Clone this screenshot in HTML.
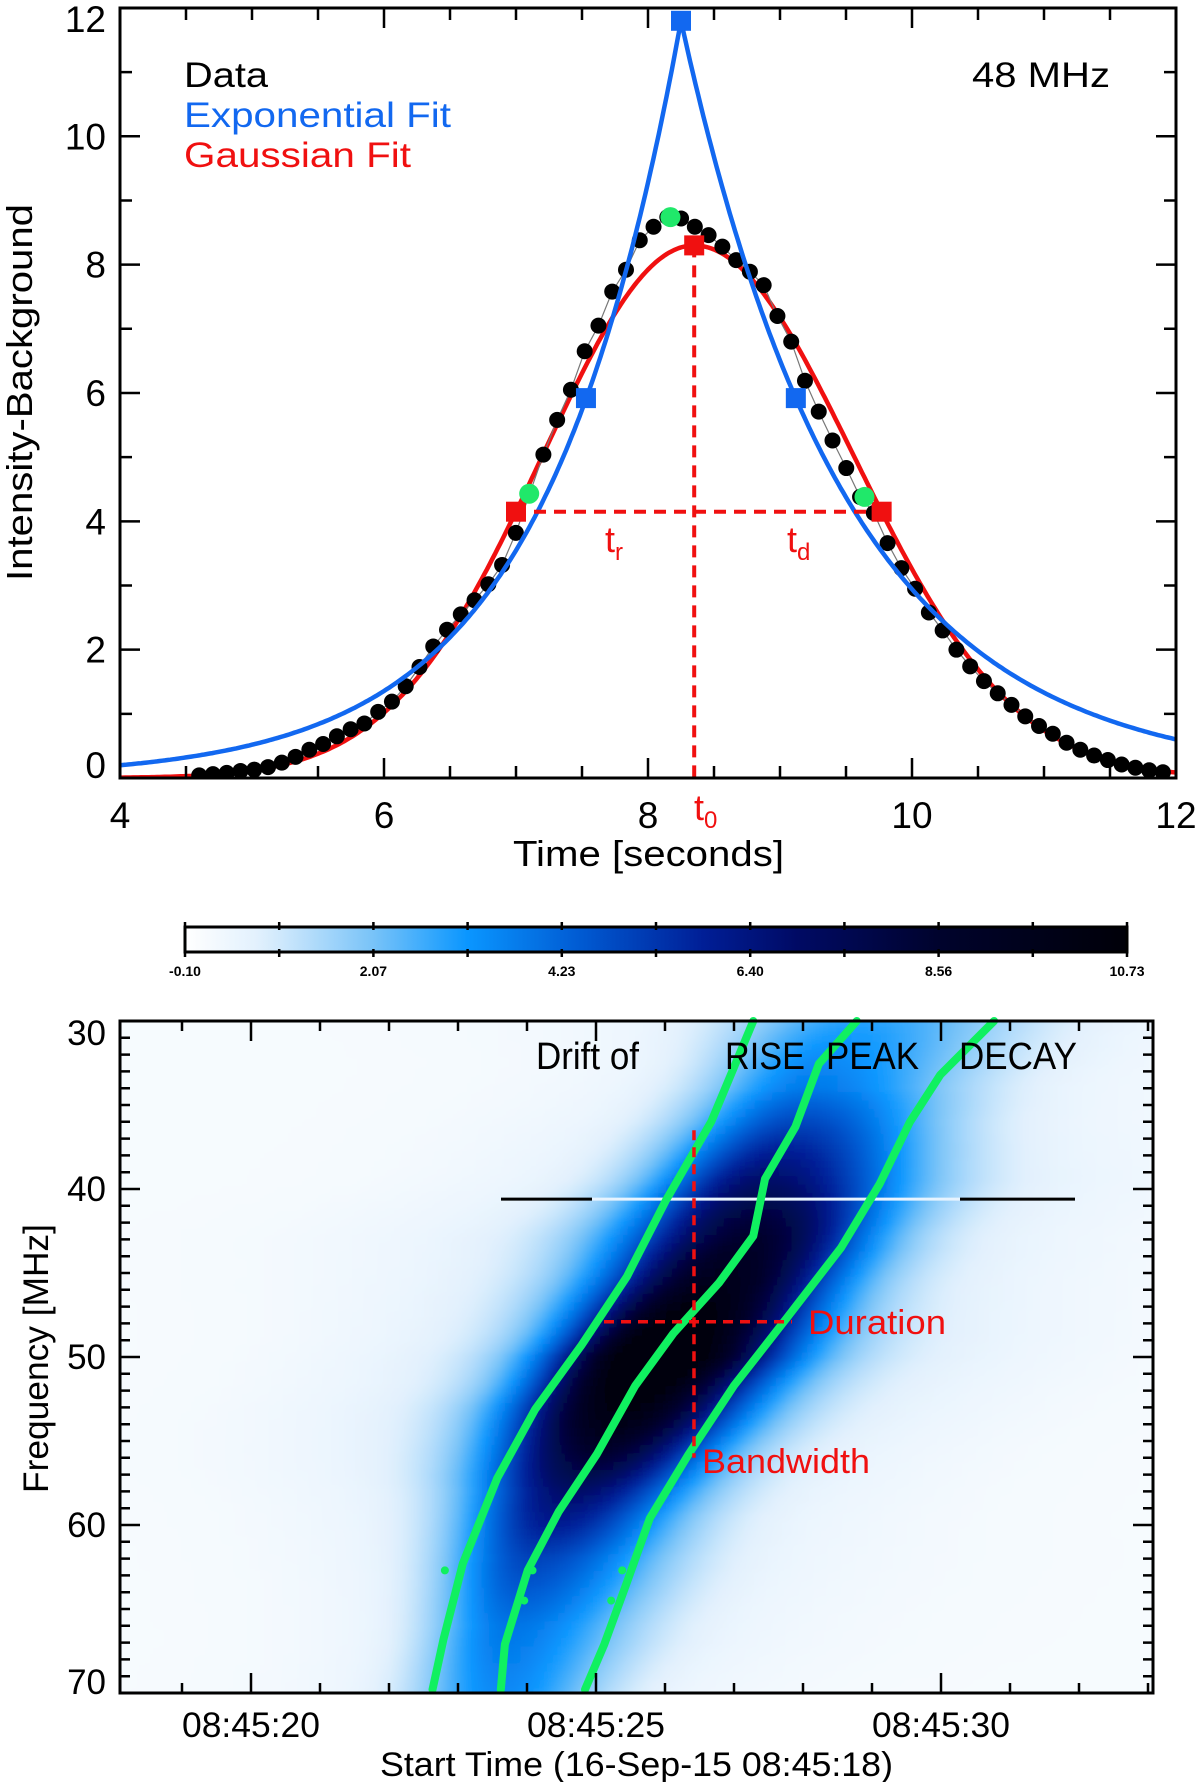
<!DOCTYPE html>
<html><head><meta charset="utf-8"><style>
html,body{margin:0;padding:0;background:#fff;}
svg{display:block;font-family:"Liberation Sans",Arial,sans-serif;}
</style></head><body>
<svg id="fig" xmlns="http://www.w3.org/2000/svg" width="1200" height="1782" viewBox="0 0 1200 1782">
<defs>
<clipPath id="clipTop"><rect x="120" y="8" width="1056" height="770"/></clipPath>
<clipPath id="clipBot"><rect x="120" y="1021" width="1033" height="672"/></clipPath>
<linearGradient id="cbar" x1="0" x2="1" y1="0" y2="0"></linearGradient>
<filter id="blur" x="-5%" y="-5%" width="110%" height="110%"><feGaussianBlur stdDeviation="3"/></filter>
</defs>
<g id="top"></g>
<g id="cb"></g>
<g id="bot"></g>
</svg>
<script>
// ---------- TOP PANEL DATA ----------
const dataT0 = 4.6;
const dataDt = 0.1043;
const dataValues = [0.04,0.06,0.08,0.11,0.13,0.17,0.24,0.33,0.44,0.53,0.65,0.76,0.85,1.03,1.19,1.43,1.73,2.05,2.31,2.55,2.77,3.02,3.32,3.82,4.43,5.04,5.58,6.05,6.65,7.05,7.58,7.92,8.38,8.59,8.74,8.72,8.59,8.46,8.28,8.07,7.89,7.68,7.20,6.80,6.19,5.71,5.26,4.83,4.38,4.13,3.66,3.27,2.95,2.58,2.30,2.00,1.74,1.51,1.32,1.14,0.96,0.81,0.69,0.55,0.44,0.35,0.28,0.21,0.16,0.12,0.09];
const expFitParams = [11.8, 8.25, 1.04, 1.26];   // peak, t0, tau rise, tau decay
const gaussFitParams = [8.3, 8.35, 1.147, 1.206]; // amp, t0, sigma left, sigma right
const blueSquaresT = [8.25, 7.53, 9.12];
const blueSquaresV = [11.8, 5.92, 5.92];
const redSquaresT = [8.35, 7.0, 9.77];
const redSquaresV = [8.3, 4.15, 4.15];
const greenPtsT = [8.17, 7.10, 9.64];
const greenPtsV = [8.74, 4.43, 4.38];
const topXTicks = [4,6,8,10,12];
const topYTicks = [0,2,4,6,8,10,12];

// ---------- COLORBAR ----------
const cbLabels = ["-0.10","2.07","4.23","6.40","8.56","10.73"];
const cbMin = -0.10, cbMax = 10.73;

// ---------- BOTTOM PANEL DATA ----------
const riseF = [30,36,40.7,45.2,49.3,53.1,57.2,62.3,66.8,69.8];
const riseT = [27.28,26.67,26.01,25.45,24.79,24.12,23.57,23.07,22.79,22.63];
const peakF = [30,32.55,36.3,39.4,42.8,45.6,48.6,51.7,55.8,59.2,62.7,67.1,69.8];
const peakT = [28.78,28.23,27.89,27.45,27.28,26.78,26.12,25.57,25.01,24.46,24.01,23.68,23.62];
const decayF = [30,33.2,36,39.7,43.5,47.6,51.7,55.8,59.6,63.4,67.1,69.8];
const decayT = [30.77,29.99,29.55,29.11,28.55,27.78,27.0,26.34,25.78,25.45,25.12,24.84];
const intensF = [30,34,38,42,46,50,54,58,62,66,70];
const intensPeak = [2.4,3.2,5.2,7.2,8.6,10.5,8.6,6.0,4.3,3.3,2.9];
const strayT = [22.81,24.08,25.38,23.96,25.22];
const strayF = [62.7,62.7,62.7,64.5,64.5];
const botXTicks = [20,25,30];
const botXLabels = ["08:45:20","08:45:25","08:45:30"];
const botYTicks = [30,40,50,60,70];

const NS = "http://www.w3.org/2000/svg";
function mk(tag, attrs, parent){const e=document.createElementNS(NS,tag);for(const k in attrs)e.setAttribute(k,attrs[k]);parent.appendChild(e);return e;}
function txt(s, attrs, parent){const e=mk('text',attrs,parent);e.textContent=s;return e;}

// ===== TOP =====
const topG = document.getElementById('top');
const X = t => 120 + (t-4)*132;
const Y = v => 778 - v*64.17;
const expF = t => { const [A,t0,tr,td]=expFitParams; return t<t0 ? A*Math.exp(-(t0-t)/tr) : A*Math.exp(-(t-t0)/td); };
const gauF = t => { const [A,t0,sl,sr]=gaussFitParams; const s=t<t0?sl:sr; return A*Math.exp(-(t-t0)*(t-t0)/(2*s*s)); };

const gTop = mk('g',{'clip-path':'url(#clipTop)'},topG);
let d=''; for(let t=4;t<=12.001;t+=0.02){d+=(d?'L':'M')+X(t).toFixed(1)+','+Y(gauF(t)).toFixed(1);}
let gl = mk('path',{d:d,fill:'none',stroke:'#f01010','stroke-width':4.5},gTop);


let pd=''; dataValues.forEach((v,i)=>{pd+=(i?'L':'M')+X(dataT0+i*dataDt).toFixed(1)+','+Y(v).toFixed(1);});
let dl = mk('path',{d:pd,fill:'none',stroke:'#777','stroke-width':1.2},gTop);


dataValues.forEach((v,i)=>{
  const c=mk('circle',{cx:X(dataT0+i*dataDt),cy:Y(v),r:8,fill:'#000'},gTop);
  
  
});
d=''; for(let t=4;t<=12.001;t+=0.02){d+=(d?'L':'M')+X(t).toFixed(1)+','+Y(expF(t)).toFixed(1);}
let el = mk('path',{d:d,fill:'none',stroke:'#1268f0','stroke-width':4.5},gTop);


const hl = mk('line',{x1:X(redSquaresT[1])+18,x2:X(redSquaresT[2])-6,y1:Y(redSquaresV[1]),y2:Y(redSquaresV[1]),stroke:'#f01010','stroke-width':4,'stroke-dasharray':'12 8'},topG);


const vl = mk('line',{x1:X(gaussFitParams[1]),x2:X(gaussFitParams[1]),y1:Y(gaussFitParams[0]),y2:778,stroke:'#f01010','stroke-width':4,'stroke-dasharray':'12 8'},topG);


blueSquaresT.forEach((t,i)=>{
  const r=mk('rect',{x:X(t)-10,y:Y(blueSquaresV[i])-10,width:20,height:20,fill:'#1268f0'},topG);
  
  
});
redSquaresT.forEach((t,i)=>{
  const r=mk('rect',{x:X(t)-10,y:Y(redSquaresV[i])-10,width:20,height:20,fill:'#f01010'},topG);
  
  
});
greenPtsT.forEach((t,i)=>{
  const c=mk('circle',{cx:X(t),cy:Y(greenPtsV[i]),r:10,fill:'#20e86a'},topG);
  
  
});
mk('rect',{x:120,y:8,width:1056,height:770,fill:'none',stroke:'#000','stroke-width':3},topG);
let tk='';
for(let t=4;t<=12.001;t+=0.5){const major=Math.abs(t-Math.round(t/2)*2)<0.01;const L=major?20:12;tk+=`M${X(t)},778v${-L}M${X(t)},8v${L}`;}
for(let v=0;v<=12;v+=1){const L=v%2==0?20:12;tk+=`M120,${Y(v)}h${L}M1176,${Y(v)}h${-L}`;}
mk('path',{d:tk,stroke:'#000','stroke-width':2.5,fill:'none'},topG);
topXTicks.forEach(t=>{
  const e=txt(String(t),{x:X(t),y:828,'font-size':37,'text-anchor':'middle',fill:'#000'},topG);
  
  
});
topYTicks.forEach(v=>{
  let by=Y(v)+13; if(v===0)by=778; if(v===12)by=32;
  const e=txt(String(v),{x:106,y:by,'font-size':37,'text-anchor':'end',fill:'#000'},topG);
  
  
});
</script>
<script>
(function(){
const tg=document.getElementById('top');
function T(s,a,n){const e=document.createElementNS("http://www.w3.org/2000/svg",'text');for(const k in a)e.setAttribute(k,a[k]);e.innerHTML=s;tg.appendChild(e);


return e;}
T('Time [seconds]',{x:513,y:866,'font-size':36,textLength:271,lengthAdjust:'spacingAndGlyphs'},'x-axis-title');
T('Intensity-Background',{x:0,y:0,'font-size':36,transform:'translate(32,581) rotate(-90)',textLength:377,lengthAdjust:'spacingAndGlyphs'},'y-axis-title');
T('Data',{x:184,y:87,'font-size':35,fill:'#000',textLength:84,lengthAdjust:'spacingAndGlyphs'},'legend-data');
T('Exponential Fit',{x:184,y:127,'font-size':35,fill:'#1268f0',textLength:267,lengthAdjust:'spacingAndGlyphs'},'legend-exponential-fit');
T('Gaussian Fit',{x:184,y:167,'font-size':35,fill:'#f01010',textLength:227,lengthAdjust:'spacingAndGlyphs'},'legend-gaussian-fit');
T('48 MHz',{x:972,y:87,'font-size':35,fill:'#000',textLength:138,lengthAdjust:'spacingAndGlyphs'},'frequency-label');
T('t<tspan font-size="24" dy="8">r</tspan>',{x:605,y:552,'font-size':36,fill:'#f01010'},'rise-time-label');
T('t<tspan font-size="24" dy="8">d</tspan>',{x:787,y:552,'font-size':36,fill:'#f01010'},'decay-time-label');
T('t<tspan font-size="24" dy="8">0</tspan>',{x:694,y:820,'font-size':36,fill:'#f01010'},'peak-time-label');
})();
</script>
<script>
const cmapStops=[[0,255,255,255],[0.08,225,240,253],[0.2,120,195,248],[0.3,10,150,255],[0.42,0,90,210],[0.55,0,30,150],[0.65,0,10,100],[0.8,0,3,45],[1,0,0,8]];
function cmap(f){f=Math.max(0,Math.min(1,f));for(let i=1;i<cmapStops.length;i++){if(f<=cmapStops[i][0]){const a=cmapStops[i-1],b=cmapStops[i];const u=(f-a[0])/(b[0]-a[0]);return `rgb(${Math.round(a[1]+(b[1]-a[1])*u)},${Math.round(a[2]+(b[2]-a[2])*u)},${Math.round(a[3]+(b[3]-a[3])*u)})`;}}return 'rgb(0,0,8)';}
(function(){
const g=document.getElementById('cbar');
for(let i=0;i<=40;i++){const s=document.createElementNS(NS,'stop');s.setAttribute('offset',i/40);s.setAttribute('stop-color',cmap(i/40));g.appendChild(s);}
const cb=document.getElementById('cb');
const bar=mk('rect',{x:185,y:927,width:942,height:25,fill:'url(#cbar)',stroke:'#000','stroke-width':3},cb);


let ck='';for(let i=0;i<=10;i++){const x=185+i*94.2;ck+=`M${x},922v8M${x},949v8`;}
mk('path',{d:ck,stroke:'#000','stroke-width':2.5},cb);
cbLabels.forEach((l,i)=>{
  const e=txt(l,{x:185+i*188.4,y:976,'font-size':14,'font-weight':'bold','text-anchor':'middle',fill:'#000'},cb);
  
  
});
})();

const bot=document.getElementById('bot');
const BX = t => 251 + (t-20)*69;
const BY = f => 1021 + (f-30)*16.8;
function interp(xs,ys,x){if(x<=xs[0])return ys[0]+(ys[1]-ys[0])*(x-xs[0])/(xs[1]-xs[0]);for(let i=1;i<xs.length;i++){if(x<=xs[i]){const u=(x-xs[i-1])/(xs[i]-xs[i-1]);return ys[i-1]+(ys[i]-ys[i-1])*u;}}const n=xs.length;return ys[n-1]+(ys[n-1]-ys[n-2])*(x-xs[n-1])/(xs[n-1]-xs[n-2]);}
const defsEl=document.querySelector('defs');
const hm=mk('g',{'clip-path':'url(#clipBot)'},bot);


mk('rect',{x:120,y:1021,width:1033,height:672,fill:cmap(0.03)},hm);
const hmInner=mk('g',{filter:'url(#blur)'},hm);
for(let f=29.5;f<=70.5;f+=0.5){
  const tc=interp(peakF,peakT,f), tr=interp(riseF,riseT,f), td=interp(decayF,decayT,f);
  const A=interp(intensF,intensPeak,f);
  const sl=Math.max(0.3,(tc-tr)/1.1774), sr=Math.max(0.3,(td-tc)/1.1774);
  const gid='row'+Math.round(f*2);
  const lg=mk('linearGradient',{id:gid,gradientUnits:'userSpaceOnUse',x1:120,x2:1153,y1:0,y2:0},defsEl);
  for(let t=18;t<=33.1;t+=0.2){
    const dt=t-tc, s=dt<0?sl:sr;
    const v=A*Math.exp(-dt*dt/(2*s*s)) + 0.13*A*Math.exp(-dt*dt/(2*(2.4*s)*(2.4*s))) + 0.15;
    const st=document.createElementNS(NS,'stop');
    st.setAttribute('offset',((BX(t)-120)/1033).toFixed(4));
    st.setAttribute('stop-color',cmap((v-cbMin)/(cbMax-cbMin)));
    lg.appendChild(st);
  }
  const r=mk('rect',{x:120,y:BY(f)-4.5,width:1033,height:9.2,fill:`url(#${gid})`},hmInner);
  
  
}
const rfi=mk('g',{},bot);


mk('line',{x1:501,x2:592,y1:BY(40.6),y2:BY(40.6),stroke:'#000','stroke-width':3},rfi);
mk('line',{x1:592,x2:960,y1:BY(40.6),y2:BY(40.6),stroke:'#e8f4ff','stroke-width':3},rfi);
mk('line',{x1:960,x2:1075,y1:BY(40.6),y2:BY(40.6),stroke:'#000','stroke-width':3},rfi);
[[riseF,riseT,'rise-drift-line'],[peakF,peakT,'peak-drift-line'],[decayF,decayT,'decay-drift-line']].forEach(([fs,ts,name])=>{
  let p='';fs.forEach((f,i)=>{p+=(i?'L':'M')+BX(ts[i]).toFixed(1)+','+BY(f).toFixed(1);});
  const e=mk('path',{d:p,fill:'none',stroke:'#10f060','stroke-width':8,'stroke-linejoin':'round','stroke-linecap':'round'},bot);
  
  
});
strayT.forEach((t,i)=>{
  const c=mk('circle',{cx:BX(t),cy:BY(strayF[i]),r:4,fill:'#10f060'},bot);
  
  
});
const tpk=26.42, fpk=47.9;
const dv=mk('line',{x1:BX(tpk),x2:BX(tpk),y1:BY(36.5),y2:BY(56),stroke:'#f01010','stroke-width':3.5,'stroke-dasharray':'10 7'},bot);


const dh=mk('line',{x1:604,x2:792,y1:BY(fpk),y2:BY(fpk),stroke:'#f01010','stroke-width':3.5,'stroke-dasharray':'10 7'},bot);


mk('rect',{x:120,y:1021,width:1033,height:672,fill:'none',stroke:'#000','stroke-width':3},bot);
let tk2='';
for(let t=19;t<=33;t+=1){const L=(t%5==0)?20:10;tk2+=`M${BX(t)},1693v${-L}M${BX(t)},1021v${L}`;}
for(let f=30;f<=70;f+=1){const L=(f%10==0)?20:10;tk2+=`M120,${BY(f)}h${L}M1153,${BY(f)}h${-L}`;}
mk('path',{d:tk2,stroke:'#000','stroke-width':2.5,fill:'none'},bot);
botXTicks.forEach((t,i)=>{
  const e=txt(botXLabels[i],{x:BX(t),y:1737,'font-size':35,'text-anchor':'middle',textLength:138,lengthAdjust:'spacingAndGlyphs'},bot);
  
  
});
botYTicks.forEach(f=>{
  let by=BY(f)+12; if(f===30)by=1045; if(f===70)by=1694;
  const e=txt(String(f),{x:106,y:by,'font-size':35,'text-anchor':'end'},bot);
  
  
});
function Lb(s,a,n){const e=txt(s,a,bot);

}
Lb('Start Time (16-Sep-15 08:45:18)',{x:380,y:1776,'font-size':34,textLength:513,lengthAdjust:'spacingAndGlyphs'},'x-axis-title');
Lb('Frequency [MHz]',{x:0,y:0,'font-size':35,transform:'translate(48,1493) rotate(-90)',textLength:269,lengthAdjust:'spacingAndGlyphs'},'y-axis-title');
Lb('Drift of',{x:536,y:1069,'font-size':38,textLength:103,lengthAdjust:'spacingAndGlyphs'},'drift-label');
Lb('RISE',{x:725,y:1069,'font-size':38,textLength:80,lengthAdjust:'spacingAndGlyphs'},'rise-label');
Lb('PEAK',{x:826,y:1069,'font-size':38,textLength:93,lengthAdjust:'spacingAndGlyphs'},'peak-label');
Lb('DECAY',{x:959,y:1069,'font-size':38,textLength:118,lengthAdjust:'spacingAndGlyphs'},'decay-label');
Lb('Duration',{x:808,y:1334,'font-size':34,fill:'#f01010',textLength:138,lengthAdjust:'spacingAndGlyphs'},'duration-label');
Lb('Bandwidth',{x:702,y:1473,'font-size':34,fill:'#f01010',textLength:168,lengthAdjust:'spacingAndGlyphs'},'bandwidth-label');
</script>
</body></html>
